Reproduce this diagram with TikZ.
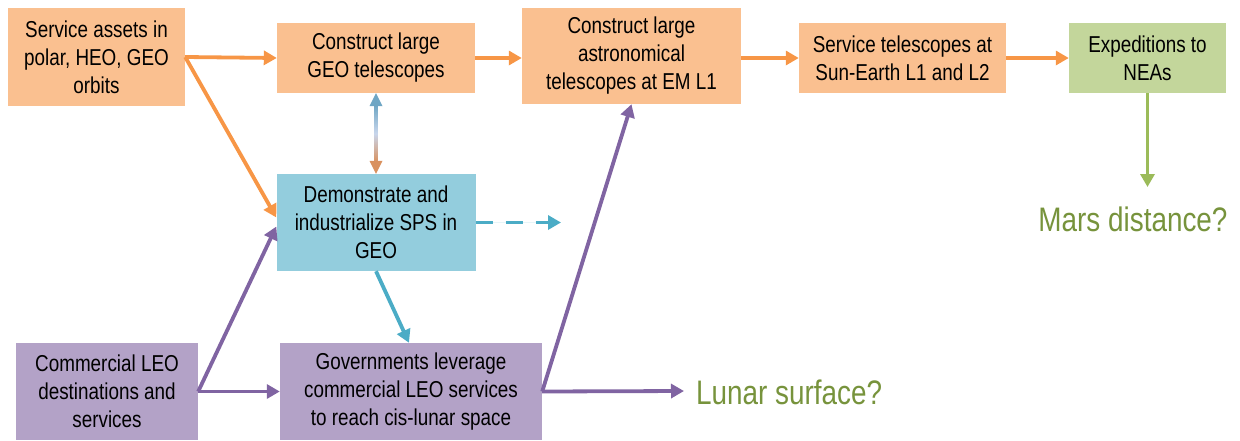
\documentclass[tikz,border=0pt]{standalone}
\usepackage{fontspec}
\setmainfont{Liberation Sans}[FakeStretch=0.82]
\usetikzlibrary{arrows.meta,calc}
\definecolor{orfill}{HTML}{FAC090}
\definecolor{orline}{HTML}{F79646}
\definecolor{blfill}{HTML}{93CDDD}
\definecolor{blline}{HTML}{4BACC6}
\definecolor{pufill}{HTML}{B3A2C7}
\definecolor{puline}{HTML}{8064A2}
\definecolor{grfill}{HTML}{C3D69B}
\definecolor{grline}{HTML}{9BBB59}
\definecolor{grtext}{HTML}{77933C}
\definecolor{gtop}{HTML}{6FA6C4}
\definecolor{gmid}{HTML}{C8D6EC}
\definecolor{gbot}{HTML}{D9915F}
\tikzset{
  box/.style={inner sep=0pt, align=center, font=\fontsize{23}{28}\selectfont, text=black},
  obox/.style={box, fill=orfill},
  bbox/.style={box, fill=blfill},
  pbox/.style={box, fill=pufill},
  gbox/.style={box, fill=grfill},
  arr/.style={line width=3.8pt, -{Triangle[length=13pt,width=14pt]}},
  oarr/.style={arr, draw=orline, fill=orline},
  parr/.style={arr, draw=puline, fill=puline},
  barr/.style={arr, draw=blline, fill=blline},
  garr/.style={arr, draw=grline, fill=grline},
  big/.style={font=\fontsize{34}{40}\selectfont, text=grtext, inner sep=0pt},
}
\begin{document}
\begin{tikzpicture}[x=1pt,y=-1pt]
\useasboundingbox (0,0) rectangle (1240,440);
\node[obox, minimum width=177, minimum height=98] (A) at (96.5,57) {Service assets in\\polar, HEO, GEO\\orbits};
\node[obox, minimum width=198, minimum height=70] (B) at (376,58) {Construct large\\GEO telescopes};
\node[obox, minimum width=219, minimum height=96] (C) at (631.5,56) {Construct large\\astronomical\\telescopes at EM L1};
\node[obox, minimum width=207, minimum height=70] (D) at (902.5,58) {Service telescopes at\\Sun-Earth L1 and L2};
\node[gbox, minimum width=157, minimum height=70] (E) at (1147.5,58) {Expeditions to\\NEAs};
\node[bbox, minimum width=199, minimum height=97] (F) at (376,222.5) {Demonstrate and\\industrialize SPS in\\GEO};
\node[pbox, minimum width=182, minimum height=97] (G) at (107,391.5) {Commercial LEO\\destinations and\\services};
\node[pbox, minimum width=262, minimum height=97] (H) at (411,391.5) {Governments leverage\\commercial LEO services\\to reach cis-lunar space};
\node[big, anchor=west] (L) at (696,392) {Lunar surface?};
\node[big] (M) at (1133,219) {Mars distance?};
\coordinate (Lend) at (684,391);
\coordinate (Dend) at (561,222.5);
\coordinate (Mend) at (1147.5,187);
% orange chain
\draw[oarr] (A.east) -- (B.west);
\draw[oarr] (A.east) -- ($(F.west)+(0,-5)$);
\draw[oarr] (B.east) -- (C.west |- B.east);
\draw[oarr] (C.east |- D.west) -- (D.west);
\draw[oarr] (D.east) -- (E.west);
% green
\draw[garr] (E.south) -- (Mend);
% purple
\draw[parr] (G.east) -- (H.west);
\draw[parr] (G.east) -- ($(F.west)+(0,4)$);
\draw[parr] (H.east) -- (C.south);
\draw[parr] (H.east) -- (Lend);
% blue
\draw[barr] (F.south) -- ($(H.north)+(-2,0)$);
\draw[barr, dash pattern=on 17pt off 13pt] (F.east) -- (Dend);
% gradient double arrow
\shade[top color=gtop, bottom color=gbot, middle color=gmid] ($(B.south)+(-1.7,12)$) rectangle ($(F.north)+(1.7,-12)$);
\fill[gtop] (B.south) -- ++(-6.5,13) -- ++(13,0) -- cycle;
\fill[gbot] (F.north) -- ++(-6.5,-13) -- ++(13,0) -- cycle;
\end{tikzpicture}
\end{document}
